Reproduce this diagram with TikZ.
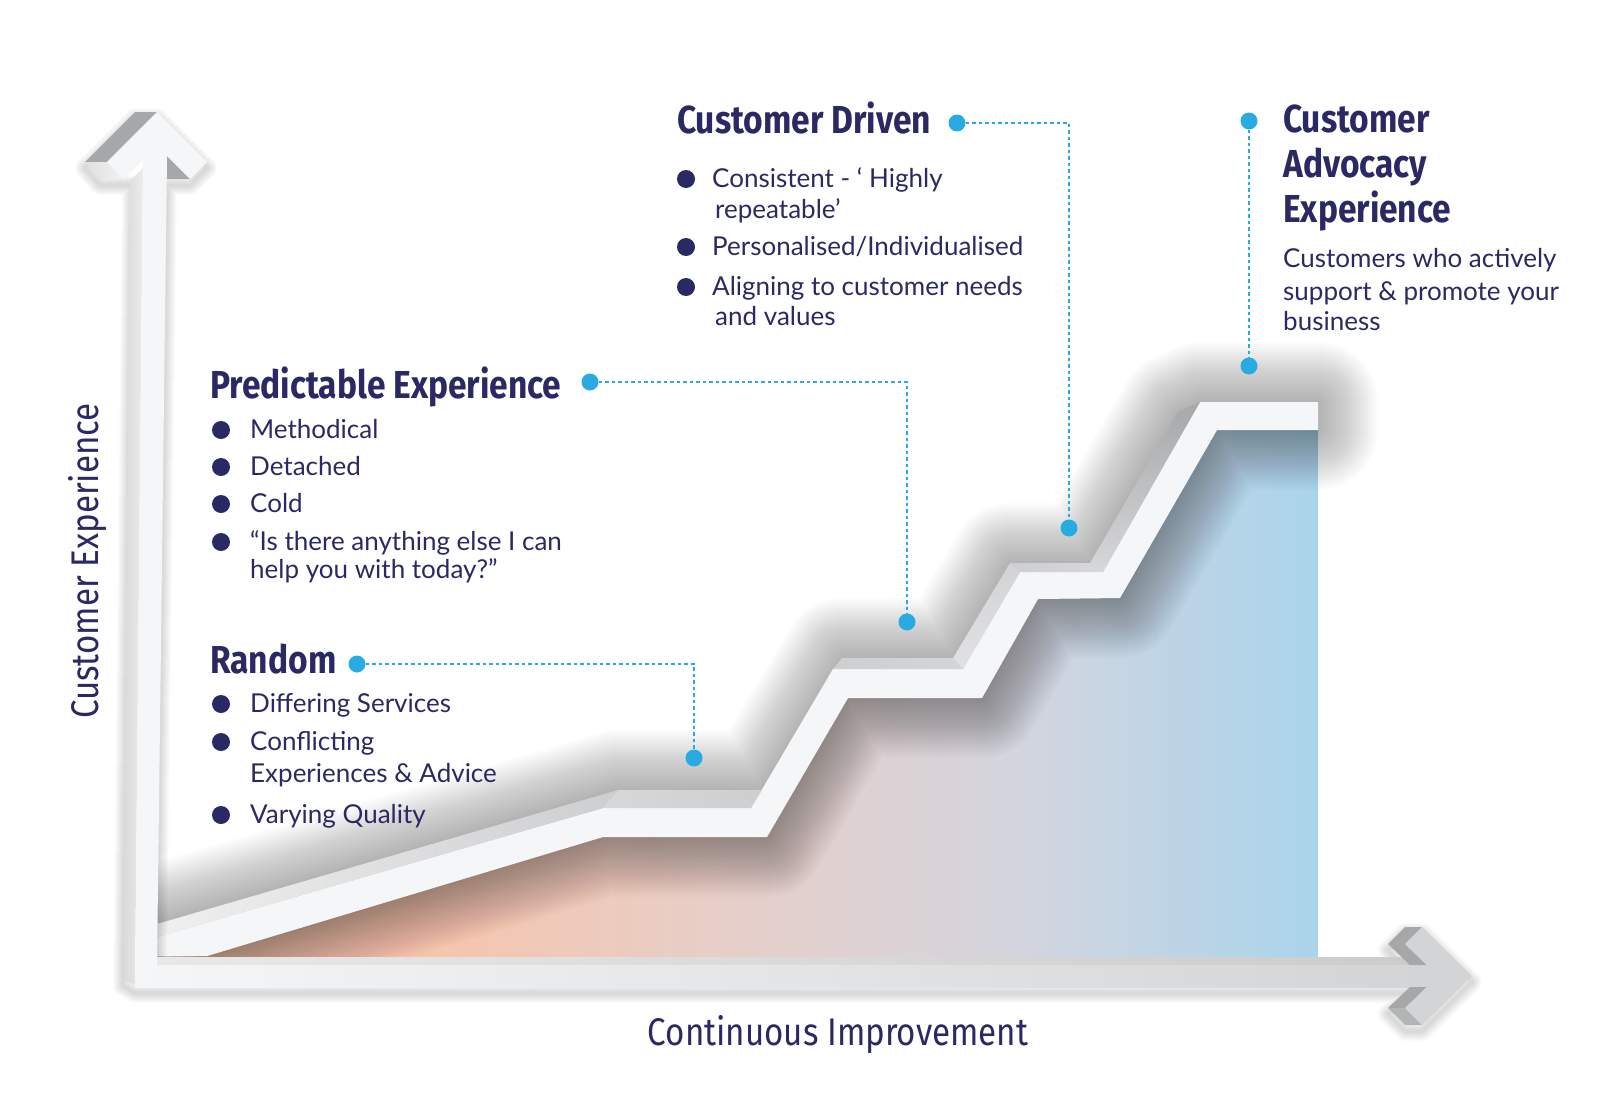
\documentclass[tikz,border=0pt]{standalone}
\usepackage{fontspec}
\setmainfont{Lato}
\newfontfamily\headfont{Fira Sans}[FakeStretch=0.86]
\usepackage{xcolor}
\usetikzlibrary{calc}
\definecolor{navy}{HTML}{2B2963}
\definecolor{dotblue}{HTML}{29ABE2}
\definecolor{peach}{HTML}{F7C4AC}
\definecolor{mauve}{HTML}{E6CFC9}
\definecolor{lilac}{HTML}{D4D5DE}
\definecolor{skyb}{HTML}{A9D4EC}
\definecolor{frontface}{HTML}{F5F6F7}
\definecolor{topface}{HTML}{CDCED0}
\definecolor{darkface}{HTML}{A6A7A9}
\definecolor{arrowface}{HTML}{D3D4D6}
\pgfdeclarehorizontalshading{field}{100bp}{color(0bp)=(peach); color(36bp)=(peach); color(50bp)=(mauve); color(62bp)=(lilac); color(75bp)=(skyb); color(100bp)=(skyb)}
\tikzset{
	heading/.style={font=\headfont\bfseries\fontsize{39}{45}\selectfont, text=navy, anchor=base west, inner sep=0pt},
	axislabel/.style={font=\headfont\fontsize{38.5}{44}\selectfont, text=navy, anchor=base, inner sep=0pt},
	body/.style={font=\fontsize{26}{30}\selectfont, text=navy, anchor=base west, inner sep=0pt},
	bullet/.style={circle, fill=navy, minimum size=18pt, inner sep=0pt},
	dot/.style={circle, fill=dotblue, minimum size=17pt, inner sep=0pt},
	link/.style={dotblue, line width=1.6pt, dash pattern=on 3.5pt off 3pt}
}
\begin{document}
\begin{tikzpicture}[x=1pt, y=-1pt]
	\useasboundingbox (0,0) rectangle (1616,1116);

	\coordinate (t0) at (157,937);
	\coordinate (t1) at (603,808);
	\coordinate (t2) at (751,808);
	\coordinate (t3) at (833,669);
	\coordinate (t4) at (963,669);
	\coordinate (t5) at (1020,572);
	\coordinate (t6) at (1103,572);
	\coordinate (t7) at (1200,402);
	\coordinate (t8) at (1318,402);
	\coordinate (b8) at (1318,430);
	\coordinate (b7) at (1217,430);
	\coordinate (b6) at (1120,598);
	\coordinate (b5) at (1038,599);
	\coordinate (b4) at (982,698);
	\coordinate (b3) at (848,698);
	\coordinate (b2) at (767,837);
	\coordinate (b1) at (603,837);
	\coordinate (b0) at (207,956);
	\coordinate (k0) at (157,924);
	\coordinate (k1) at (618,790);
	\coordinate (k2) at (762,790);
	\coordinate (k3) at (842,658);
	\coordinate (k4) at (953,658);
	\coordinate (k5) at (1010,563);
	\coordinate (k6) at (1090,563);
	\coordinate (k7) at (1178,412);

	\shade[shading=field] (b0) -- (b1) -- (b2) -- (b3) -- (b4) -- (b5) -- (b6) -- (b7) -- (b8) -- (1318,957) -- (157,957) -- cycle;

	\begin{scope}
		\clip (150,0) rectangle (1616,958);
		\foreach \w in {4,8,...,120}
			\draw[black, opacity=0.01, line width=\w pt, line join=round, yshift=-18pt] (k0) -- (k1) -- (k2) -- (k3) -- (k4) -- (k5) -- (k6) -- (k7) -- (t7) -- (t8) -- (b8) -- (b7) -- (b6) -- (b5) -- (b4) -- (b3) -- (b2) -- (b1) -- (b0) -- (157,956) -- cycle;
	\end{scope}

	\fill[frontface] (t0) -- (t1) -- (t2) -- (t3) -- (t4) -- (t5) -- (t6) -- (t7) -- (t8) -- (b8) -- (b7) -- (b6) -- (b5) -- (b4) -- (b3) -- (b2) -- (b1) -- (b0) -- (157,956) -- cycle;
	\shade[left color=gray!12, right color=topface] (t0) -- (t1) -- (k1) -- (k0) -- cycle;
	\shade[left color=topface!80, right color=topface] (t1) -- (t2) -- (k2) -- (k1) -- cycle;
	\shade[left color=topface, right color=topface!85] (t3) -- (t4) -- (k4) -- (k3) -- cycle;
	\shade[top color=topface!90, bottom color=topface!60] (t4) -- (t5) -- (k5) -- (k4) -- cycle;
	\shade[left color=topface, right color=topface!80] (t5) -- (t6) -- (k6) -- (k5) -- cycle;
	\shade[top color=darkface, bottom color=topface!80] (t6) -- (t7) -- (k7) -- (k6) -- cycle;

	\foreach \w in {2,4,...,20}
		\draw[black, opacity=0.015, line width=\w pt, line join=round, yshift=-6pt] (135,987) -- (123,980) -- (132,179) -- (100,179) -- (85,162) -- (135,112) -- (157,112) -- (207,162) -- (190,179) -- (167,179) -- (157,965) -- (1405,965) -- (1388,944) -- (1405,927) -- (1422,927) -- (1472,976) -- (1422,1025) -- (1405,1025) -- (1388,1008) -- (1410,987) -- cycle;

	\fill[darkface] (157,112) -- (107,162) -- (85,162) -- (135,112) -- cycle;
	\shade[left color=gray!25, right color=gray!10] (107,162) -- (124,179) -- (100,179) -- (85,162) -- cycle;
	\shade[left color=gray!30, right color=gray!15] (130,181) -- (143,168) -- (135,985) -- (123,980) -- cycle;
	\fill[darkface] (167,156) -- (190,179) -- (167,179) -- cycle;
	\fill[frontface] (157,112) -- (207,162) -- (190,179) -- (167,156) -- (157,965) -- (157,987) -- (135,987) -- (143,160) -- (124,179) -- (107,162) -- cycle;

	\shade[left color=gray!18, right color=gray!40] (157,957) rectangle (1412,965);
	\shade[left color=frontface, middle color=frontface, right color=arrowface] (135,965) rectangle (1427,987);
	\fill[darkface] (1422,927) -- (1405,944) -- (1388,944) -- (1405,927) -- cycle;
	\fill[darkface] (1405,944) -- (1427,965) -- (1410,965) -- (1388,944) -- cycle;
	\fill[darkface] (1427,987) -- (1405,1008) -- (1388,1008) -- (1410,987) -- cycle;
	\fill[darkface!85] (1405,1008) -- (1422,1025) -- (1405,1025) -- (1388,1008) -- cycle;
	\fill[arrowface] (1422,927) -- (1472,976) -- (1422,1025) -- (1405,1008) -- (1427,987) -- (1427,965) -- (1405,944) -- cycle;

	\node[axislabel] (xlab) at (838,1045) {Continuous Improvement};
	\node[axislabel, rotate=90] (ylab) at (98,561) {Customer Experience};

	\node[heading] (rand) at (210,673) {Random};
	\foreach \y/\txt [count=\i] in {712/Differing Services, 750/Conflicting, 823/Varying Quality}{
		\node[bullet] (rb\i) at (221,\y-8) {};
		\node[body] (rt\i) at (250,\y) {\txt};
	}
	\node[body] (rt4) at (250,782) {Experiences \& Advice};

	\node[heading] (pred) at (210,398) {Predictable Experience};
	\foreach \y/\txt [count=\i] in {438/Methodical, 475/Detached, 512/Cold, 550/“Is there anything else I can}{
		\node[bullet] (pb\i) at (221,\y-8) {};
		\node[body] (pt\i) at (250,\y) {\txt};
	}
	\node[body] (pt5) at (250,578) {help you with today?”};

	\node[heading] (drv) at (677,133) {Customer Driven};
	\foreach \y/\txt [count=\i] in {187/Consistent - ‘ Highly, 255/{Personalised/Individualised}, 295/Aligning to customer needs}{
		\node[bullet] (cb\i) at (686,\y-8) {};
		\node[body] (ct\i) at (712,\y) {\txt};
	}
	\node[body] (ct4) at (715,218) {repeatable’};
	\node[body] (ct5) at (715,325) {and values};

	\node[heading] (adv1) at (1283,132) {Customer};
	\node[heading] (adv2) at (1283,177) {Advocacy};
	\node[heading] (adv3) at (1283,222) {Experience};
	\node[body] (at1) at (1283,267) {Customers who actively};
	\node[body] (at2) at (1283,300) {support \& promote your};
	\node[body] (at3) at (1283,330) {business};

	\node[dot] (d1) at (357,664) {};
	\node[dot] (d1e) at (694,758) {};
	\node[dot] (d2) at (590,382) {};
	\node[dot] (d2e) at (907,622) {};
	\node[dot] (d3) at (957,123) {};
	\node[dot] (d3e) at (1069,528) {};
	\node[dot] (d4) at (1249,121) {};
	\node[dot] (d4e) at (1249,366) {};
	\draw[link] (d1) -| (d1e);
	\draw[link] (d2) -| (d2e);
	\draw[link] (d3) -| (d3e);
	\draw[link] (d4) -- (d4e);
\end{tikzpicture}
\end{document}
